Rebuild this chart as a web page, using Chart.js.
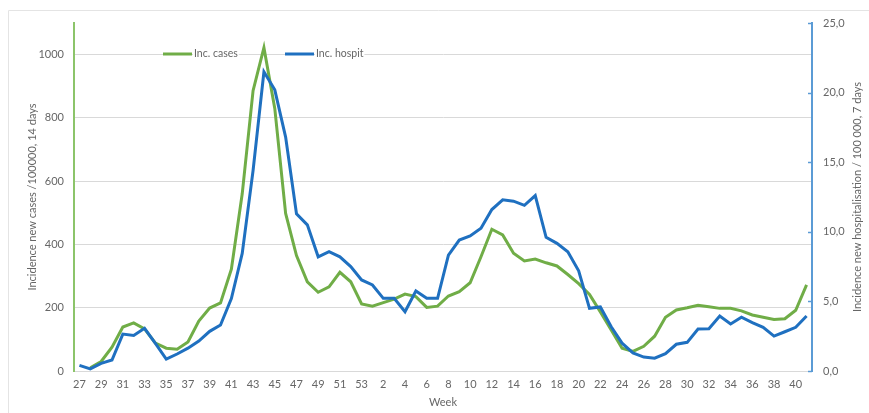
<!DOCTYPE html>
<html>
<head>
<meta charset="utf-8">
<script src="https://cdn.jsdelivr.net/npm/chart.js@4/dist/chart.umd.min.js"></script>
<style>
  html, body { margin: 0; padding: 0; background: #ffffff; }
  #wrap { width: 869px; height: 413px; position: relative; }
</style>
</head>
<body>
<div id="wrap"><canvas id="c" width="869" height="413"></canvas></div>
<script>
// Weeks 27-53 of the first year, then weeks 1-41 of the next
const weeks = [
  '27','28','29','30','31','32','33','34','35','36','37','38','39','40','41','42','43','44','45','46',
  '47','48','49','50','51','52','53','1','2','3','4','5','6','7','8','9','10','11','12','13',
  '14','15','16','17','18','19','20','21','22','23','24','25','26','27','28','29','30','31','32','33',
  '34','35','36','37','38','39','40','41'
];

// New cases per 100 000, 14 days (left axis)
const incCases = [
  null, 10, 30, 75, 139, 152, 133, 88, 72, 69, 92, 158, 199, 215, 322, 560, 886, 1022, 830, 498,
  365, 282, 249, 266, 312, 282, 212, 205, 216, 227, 243, 235, 201, 205, 237, 251, 279, 361, 448, 430,
  372, 348, 354, 342, 332, 305, 276, 242, 187, 130, 72, 62, 78, 110, 170, 193, 200, 208, 203, 198,
  198, 190, 177, 170, 163, 165, 192, 272
];

// New hospitalisations per 100 000, 7 days (right axis)
const incHospit = [
  0.4, 0.15, 0.55, 0.79, 2.65, 2.55, 3.07, 1.99, 0.85, 1.22, 1.64, 2.15, 2.85, 3.3, 5.2, 8.45, 14.4, 21.5, 20.2, 16.8,
  11.3, 10.5, 8.2, 8.57, 8.2, 7.5, 6.54, 6.18, 5.22, 5.22, 4.26, 5.75, 5.22, 5.22, 8.33, 9.41, 9.7, 10.25, 11.6, 12.3,
  12.2, 11.9, 12.6, 9.6, 9.17, 8.57, 7.2, 4.5, 4.6, 3.18, 2.0, 1.3, 1.0, 0.92, 1.25, 1.92, 2.06, 3.02, 3.04, 3.95,
  3.38, 3.86, 3.47, 3.14, 2.51, 2.82, 3.14, 3.95
];

const caseTicks = [0, 200, 400, 600, 800, 1000];
const hospTicks = [0, 5, 10, 15, 20, 25];

const GREEN = '#70ad47';
const BLUE = '#1f70c0';
const TEXT = '#666666';
const GRID = '#d9d9d9';
const FONT = 'Lato, "Open Sans", "Liberation Sans", sans-serif';

// Frame, in-plot legend, inner tick marks and the rotated right-hand title
const decor = {
  id: 'decor',
  beforeDraw(chart) {
    const ctx = chart.ctx;
    ctx.save();
    ctx.strokeStyle = '#e4e4e4';
    ctx.lineWidth = 1;
    ctx.beginPath();
    ctx.moveTo(8.5, 413);
    ctx.lineTo(8.5, 10.5);
    ctx.lineTo(869, 10.5);
    ctx.stroke();
    ctx.restore();
  },
  afterDraw(chart) {
    const ctx = chart.ctx;
    const area = chart.chartArea;
    const y2 = chart.scales.y2;

    // tick marks on the inner side of the right axis
    ctx.save();
    ctx.strokeStyle = '#5b9bd5';
    ctx.lineWidth = 1.5;
    hospTicks.forEach(v => {
      const py = Math.round(y2.getPixelForValue(v)) + 0.5;
      ctx.beginPath();
      ctx.moveTo(area.right - 4, py);
      ctx.lineTo(area.right, py);
      ctx.stroke();
    });
    ctx.restore();

    // legend inside the plot
    ctx.save();
    ctx.font = '10.5px ' + FONT;
    ctx.textBaseline = 'middle';
    const ly = area.top + 31;
    const starts = [163, 285];
    chart.data.datasets.forEach((ds, i) => {
      const x0 = starts[i];
      ctx.strokeStyle = ds.borderColor;
      ctx.lineWidth = 3;
      ctx.beginPath();
      ctx.moveTo(x0, ly);
      ctx.lineTo(x0 + 29, ly);
      ctx.stroke();
      const tw = ctx.measureText(ds.label).width;
      ctx.fillStyle = '#ffffff';
      ctx.fillRect(x0 + 30, ly - 6, tw + 2, 12);
      ctx.fillStyle = TEXT;
      ctx.textAlign = 'left';
      ctx.fillText(ds.label, x0 + 31, ly);
    });
    ctx.restore();

    // right axis title, reading bottom to top
    ctx.save();
    ctx.font = '11px ' + FONT;
    ctx.fillStyle = TEXT;
    ctx.textAlign = 'center';
    ctx.textBaseline = 'middle';
    ctx.translate(857, (area.top + area.bottom) / 2);
    ctx.rotate(-Math.PI / 2);
    ctx.fillText('Incidence new hospitalisation / 100\u202F000, 7 days', 0, 0);
    ctx.restore();
  }
};

new Chart(document.getElementById('c'), {
  type: 'line',
  data: {
    labels: weeks,
    datasets: [
      {
        label: 'Inc. cases',
        data: incCases,
        yAxisID: 'y',
        borderColor: GREEN,
        backgroundColor: GREEN,
        borderWidth: 3,
        pointRadius: 0,
        tension: 0,
        order: 1
      },
      {
        label: 'Inc. hospit',
        data: incHospit,
        yAxisID: 'y2',
        borderColor: BLUE,
        backgroundColor: BLUE,
        borderWidth: 3,
        pointRadius: 0,
        tension: 0,
        order: 0
      }
    ]
  },
  options: {
    responsive: false,
    animation: false,
    devicePixelRatio: 1,
    layout: { padding: { top: 23, left: 22, right: 0, bottom: 0 } },
    plugins: {
      legend: { display: false },
      tooltip: { enabled: false }
    },
    scales: {
      x: {
        offset: true,
        grid: { display: false, drawTicks: false },
        border: { display: true, color: GRID, width: 1 },
        ticks: {
          autoSkip: false,
          maxRotation: 0,
          minRotation: 0,
          padding: 7,
          color: TEXT,
          font: { family: FONT, size: 11 },
          callback: (v, i) => (i % 2 === 0 ? weeks[i] : '')
        },
        title: {
          display: true,
          text: 'Week',
          color: TEXT,
          font: { family: FONT, size: 11 },
          padding: { top: 2, bottom: 4 }
        },
        afterFit: s => { s.height = 42; }
      },
      y: {
        position: 'left',
        min: 0,
        max: 1100,
        bounds: 'data',
        ticks: {
          includeBounds: false,
          padding: 10,
          color: TEXT,
          font: { family: FONT, size: 11 },
          callback: v => String(v)
        },
        afterBuildTicks: s => { s.ticks = caseTicks.map(v => ({ value: v })); },
        grid: { color: GRID, lineWidth: 1, drawTicks: false },
        border: { display: true, color: '#8cc46a', width: 2 },
        title: {
          display: true,
          text: 'Incidence new cases /100000, 14 days',
          color: TEXT,
          font: { family: FONT, size: 11 },
          padding: { top: 4, bottom: 4 }
        },
        afterFit: s => { s.width = 52; }
      },
      y2: {
        position: 'right',
        min: 0,
        max: 25,
        bounds: 'data',
        ticks: {
          includeBounds: false,
          padding: 11,
          color: TEXT,
          font: { family: FONT, size: 11 },
          callback: v => Number(v).toFixed(1).replace('.', ',')
        },
        afterBuildTicks: s => { s.ticks = hospTicks.map(v => ({ value: v })); },
        grid: { drawOnChartArea: false, drawTicks: false },
        border: { display: true, color: '#5b9bd5', width: 2 },
        title: { display: false },
        afterFit: s => { s.width = 57; }
      }
    }
  },
  plugins: [decor]
});
</script>
</body>
</html>
